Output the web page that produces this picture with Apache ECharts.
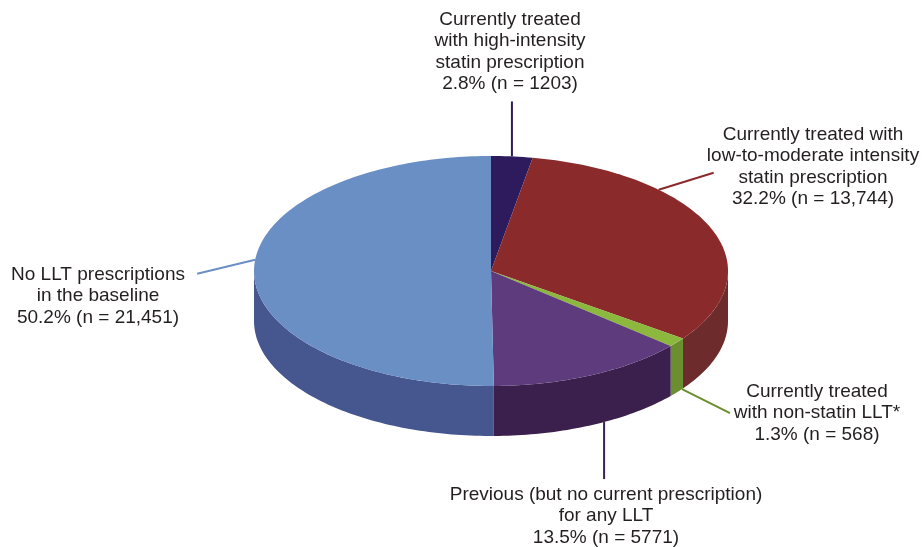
<!DOCTYPE html>
<html>
<head>
    <meta charset="UTF-8">
    <title>LLT prescriptions pie</title>
    <script type="text/javascript" src="https://cdn.jsdelivr.net/npm/echarts@6/dist/echarts.min.js"></script>
    <style>
        *{margin:0;padding:0}
        html,body{width:100%;height:100%;background:#fff}
        #main{width:922px;height:547px}
    </style>
</head>
<body>
<div id="main"></div>
<script type="text/javascript">
    // slice data, clockwise from 12 o'clock
    var names = [
        'Currently treated\nwith high-intensity\nstatin prescription',
        'Currently treated with\nlow-to-moderate intensity\nstatin prescription',
        'Currently treated\nwith non-statin LLT*',
        'Previous (but no current prescription)\nfor any LLT',
        'No LLT prescriptions\nin the baseline'
    ];
    var counts = [1203, 13744, 568, 5771, 21451];
    var pctLabels = ['2.8%', '32.2%', '1.3%', '13.5%', '50.2%'];
    var nLabels = ['1203', '13,744', '568', '5771', '21,451'];

    var topColors = ['#2d1b5e', '#8a2a2b', '#8cb83e', '#5e3b7c', '#6a8fc5'];
    var sideColors = ['#22164a', '#6d2b2c', '#6b8e2f', '#3b1f4c', '#46568f'];
    var lineColors = ['#2d1b5e', '#8a2a2b', '#6b8e2f', '#3b1f4c', '#6a8fc5'];

    // pie geometry (pixels)
    var pie = {cx: 491, cy: 271, rx: 237, ry: 115, depth: 50};

    // label placement: anchor angle shift (deg), which rim, leader end offset, text top-centre
    var labelLayout = [
        {shift: 0,    rim: 'top',    off: [0, -55],  text: [510, 9]},
        {shift: -23,  rim: 'top',    off: [55, -17], text: [813, 124]},
        {shift: -2,   rim: 'bottom', off: [48, 24],  text: [817, 381]},
        {shift: -3.5, rim: 'bottom', off: [0, 57],   text: [606, 484]},
        {shift: 6,    rim: 'top',    off: [-58, 14], text: [98, 264]}
    ];

    var total = counts.reduce(function (a, b) { return a + b; }, 0);
    var starts = [];
    var acc = 0;
    counts.forEach(function (v) { starts.push(acc / total * Math.PI * 2); acc += v; });

    function pt(t, dy) {
        return [pie.cx + pie.rx * Math.sin(t), pie.cy - pie.ry * Math.cos(t) + (dy || 0)];
    }

    function arc(a, b, dy) {
        var pts = [];
        var n = Math.max(2, Math.ceil((b - a) / 0.02));
        for (var i = 0; i <= n; i++) pts.push(pt(a + (b - a) * i / n, dy));
        return pts;
    }

    function renderItem(params, api) {
        var i = params.dataIndex;
        var a = starts[i];
        var b = a + api.value(0) / total * Math.PI * 2;
        var children = [];

        // front wall (only between 90deg and 270deg is visible)
        var sa = Math.max(a, Math.PI / 2), sb = Math.min(b, Math.PI * 1.5);
        if (sb > sa) {
            var topEdge = arc(sa, sb, 0);
            var botEdge = arc(sa, sb, pie.depth).reverse();
            children.push({
                type: 'polygon', z2: 1,
                shape: {points: topEdge.concat(botEdge)},
                style: {fill: sideColors[i]}
            });
        }

        // top face
        children.push({
            type: 'polygon', z2: 2,
            shape: {points: [[pie.cx, pie.cy]].concat(arc(a, b, 0))},
            style: {fill: topColors[i]}
        });

        // leader line + label
        var lay = labelLayout[i];
        var mid = (a + b) / 2 + lay.shift * Math.PI / 180;
        var p0 = pt(mid, lay.rim === 'bottom' ? pie.depth : 0);
        var p1 = [p0[0] + lay.off[0], p0[1] + lay.off[1]];
        children.push({
            type: 'line', z2: 3,
            shape: {x1: p0[0], y1: p0[1], x2: p1[0], y2: p1[1]},
            style: {stroke: lineColors[i], lineWidth: 2}
        });
        children.push({
            type: 'text', z2: 4,
            x: lay.text[0], y: lay.text[1],
            style: {
                text: names[i] + '\n' + pctLabels[i] + ' (n = ' + nLabels[i] + ')',
                align: 'center', verticalAlign: 'top',
                fontSize: 19, lineHeight: 21.5,
                fontFamily: '"Liberation Sans", Arial, sans-serif',
                fill: '#231f20'
            }
        });

        return {type: 'group', children: children};
    }

    var option = {
        animation: false,
        series: [{
            type: 'custom',
            coordinateSystem: 'none',
            renderItem: renderItem,
            data: counts
        }]
    };

    var myChart = echarts.init(document.getElementById('main'));
    myChart.setOption(option);
</script>
</body>
</html>
